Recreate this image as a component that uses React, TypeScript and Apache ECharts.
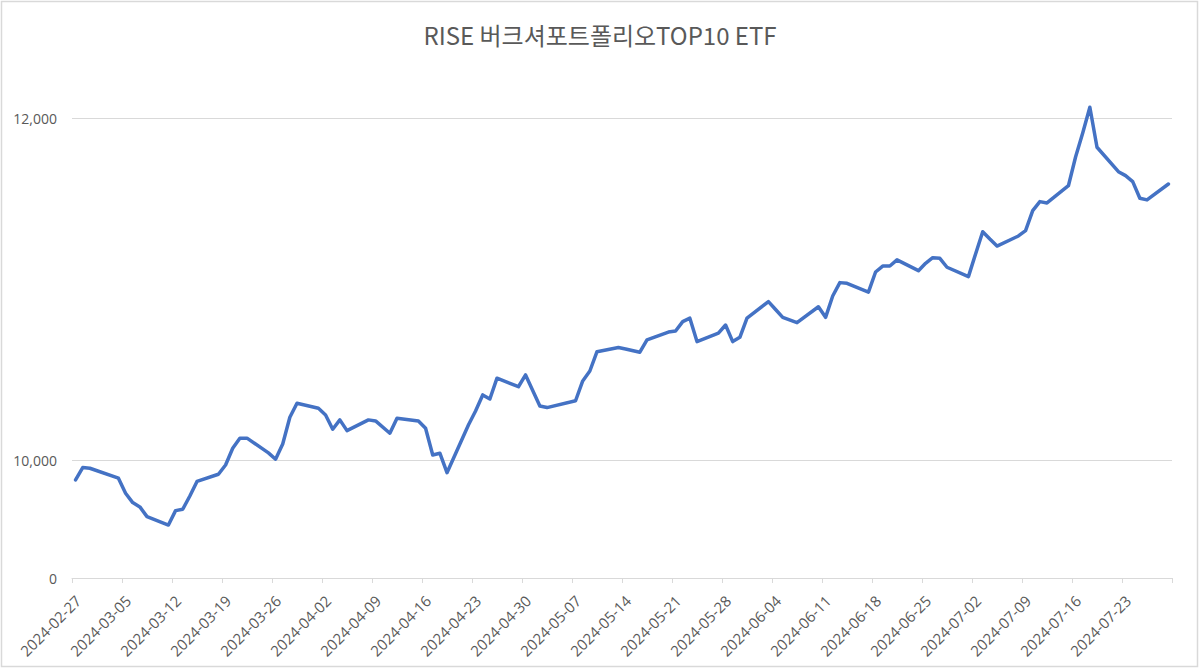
import { useEffect, useRef } from 'react';
import * as echarts from 'echarts';

const TITLE = 'RISE 버크셔포트폴리오TOP10 ETF';
const START_DATE = '2024-02-27';
const END_DATE = '2024-07-29';

const DATES = [
  '2024-02-27', '2024-02-28', '2024-02-29',
  '2024-03-04', '2024-03-05', '2024-03-06', '2024-03-07', '2024-03-08',
  '2024-03-11', '2024-03-12', '2024-03-13', '2024-03-14', '2024-03-15',
  '2024-03-18', '2024-03-19', '2024-03-20', '2024-03-21', '2024-03-22',
  '2024-03-25', '2024-03-26', '2024-03-27', '2024-03-28', '2024-03-29',
  '2024-04-01', '2024-04-02', '2024-04-03', '2024-04-04', '2024-04-05',
  '2024-04-08', '2024-04-09', '2024-04-11', '2024-04-12',
  '2024-04-15', '2024-04-16', '2024-04-17', '2024-04-18', '2024-04-19',
  '2024-04-22', '2024-04-23', '2024-04-24', '2024-04-25', '2024-04-26',
  '2024-04-29', '2024-04-30', '2024-05-02', '2024-05-03',
  '2024-05-07', '2024-05-08', '2024-05-09', '2024-05-10',
  '2024-05-13', '2024-05-14', '2024-05-16', '2024-05-17',
  '2024-05-20', '2024-05-21', '2024-05-22', '2024-05-23', '2024-05-24',
  '2024-05-27', '2024-05-28', '2024-05-29', '2024-05-30', '2024-05-31',
  '2024-06-03', '2024-06-04', '2024-06-05', '2024-06-07',
  '2024-06-10', '2024-06-11', '2024-06-12', '2024-06-13', '2024-06-14',
  '2024-06-17', '2024-06-18', '2024-06-19', '2024-06-20', '2024-06-21',
  '2024-06-24', '2024-06-25', '2024-06-26', '2024-06-27', '2024-06-28',
  '2024-07-01', '2024-07-02', '2024-07-03', '2024-07-04', '2024-07-05',
  '2024-07-08', '2024-07-09', '2024-07-10', '2024-07-11', '2024-07-12',
  '2024-07-15', '2024-07-16', '2024-07-17', '2024-07-18', '2024-07-19',
  '2024-07-22', '2024-07-23', '2024-07-24', '2024-07-25', '2024-07-26',
  '2024-07-29',
];

const VALUES = [
  9884, 9956, 9952,
  9894, 9806, 9751, 9726, 9669,
  9620, 9704, 9712, 9790, 9875,
  9917, 9971, 10069, 10128, 10128,
  10042, 10005, 10094, 10250, 10332,
  10303, 10264, 10180, 10235, 10172,
  10235, 10229, 10157, 10245,
  10229, 10186, 10030, 10040, 9926,
  10205, 10287, 10381, 10357, 10479,
  10429, 10498, 10316, 10307,
  10347, 10463, 10521, 10634,
  10658, 10650, 10631, 10703,
  10749, 10755, 10810, 10830, 10693,
  10742, 10790, 10693, 10718, 10830,
  10927, 10881, 10835, 10804,
  10897, 10835, 10960, 11038, 11034,
  10982, 11100, 11135, 11135, 11171,
  11108, 11151, 11184, 11180, 11128,
  11073, 11206, 11336, 11293, 11252,
  11311, 11342, 11459, 11512, 11504,
  11605, 11773, 11914, 12064, 11830,
  11687, 11664, 11629, 11532, 11522,
  11615,
];

const WEEK_LABELS = [
  '2024-02-27', '2024-03-05', '2024-03-12', '2024-03-19', '2024-03-26',
  '2024-04-02', '2024-04-09', '2024-04-16', '2024-04-23', '2024-04-30',
  '2024-05-07', '2024-05-14', '2024-05-21', '2024-05-28', '2024-06-04',
  '2024-06-11', '2024-06-18', '2024-06-25', '2024-07-02', '2024-07-09',
  '2024-07-16', '2024-07-23',
];

// value at the bottom axis line (the source labels it "0")
const Y_MIN = 9310;
const Y_MAX = 12200;
const Y_TICKS = [Y_MIN, 10000, 12000];

const DAY_MS = 86400000;
const dayIndex = (s: string) => Math.round((Date.parse(s) - Date.parse(START_DATE)) / DAY_MS);
const LABEL_NUDGE = 0.35;

const LABEL_FONT = "'Open Sans', sans-serif";
const TEXT_COLOR = '#595959';
const GRID_COLOR = '#d9d9d9';

export default function App() {
  const ref = useRef<HTMLDivElement>(null);

  useEffect(() => {
    if (!ref.current) return;
    const chart = echarts.init(ref.current, null, { renderer: 'svg' });

    const lastDay = dayIndex(END_DATE);
    const weekTicks: number[] = [];
    for (let v = -0.5; v <= lastDay + 0.5 + 1e-6; v += 7) weekTicks.push(v);
    const labelPos = WEEK_LABELS.map((s) => dayIndex(s) + LABEL_NUDGE);

    const xFormatter = (v: number) => {
      let best = WEEK_LABELS[0];
      let bd = Infinity;
      WEEK_LABELS.forEach((s, i) => {
        const d = Math.abs(labelPos[i] - v);
        if (d < bd) { bd = d; best = s; }
      });
      return best;
    };

    chart.setOption({
      animation: false,
      backgroundColor: '#ffffff',
      title: {
        text: TITLE,
        left: 'center',
        top: 22,
        padding: 0,
        textStyle: {
          fontSize: 24,
          fontWeight: 'normal',
          color: TEXT_COLOR,
          fontFamily: "'Noto Sans CJK KR', sans-serif",
        },
      },
      grid: {
        left: 72,
        right: 28,
        top: 84,
        bottom: 91,
        containLabel: false,
        outerBoundsMode: 'none',
      },
      xAxis: {
        type: 'value',
        min: -0.5,
        max: lastDay + 0.5,
        axisLine: { show: true, onZero: false, lineStyle: { color: GRID_COLOR, width: 1 } },
        axisTick: { show: true, length: 5, customValues: weekTicks, lineStyle: { color: GRID_COLOR, width: 1 } },
        axisLabel: {
          customValues: labelPos,
          rotate: 45,
          margin: 20,
          color: TEXT_COLOR,
          fontSize: 15,
          fontFamily: LABEL_FONT,
          formatter: xFormatter,
        },
        splitLine: { show: false },
      },
      yAxis: {
        type: 'value',
        min: Y_MIN,
        max: Y_MAX,
        axisLine: { show: false },
        axisTick: { show: false, customValues: Y_TICKS },
        axisLabel: {
          customValues: Y_TICKS,
          margin: 15,
          color: TEXT_COLOR,
          fontSize: 14,
          fontFamily: LABEL_FONT,
          formatter: (v: number) => (Math.abs(v - Y_MIN) < 1 ? '0' : Math.round(v).toLocaleString('en-US')),
        },
        splitLine: { show: true, lineStyle: { color: GRID_COLOR, width: 1 } },
      },
      graphic: [
        {
          type: 'rect',
          silent: true,
          z: -10,
          shape: { x: 1.5, y: 1.5, width: 1196, height: 665 },
          style: { fill: 'none', stroke: GRID_COLOR, lineWidth: 1.5 },
        },
      ],
      series: [
        {
          type: 'line',
          data: DATES.map((d, i) => [dayIndex(d), VALUES[i]]),
          showSymbol: false,
          symbol: 'none',
          lineStyle: { color: '#4472C4', width: 3.5, cap: 'round', join: 'round' },
          itemStyle: { color: '#4472C4' },
        },
      ],
    });

    return () => chart.dispose();
  }, []);

  return (
    <div
      ref={ref}
      style={{ position: 'fixed', left: 0, top: 0, width: 1200, height: 669, background: '#fff' }}
    />
  );
}
